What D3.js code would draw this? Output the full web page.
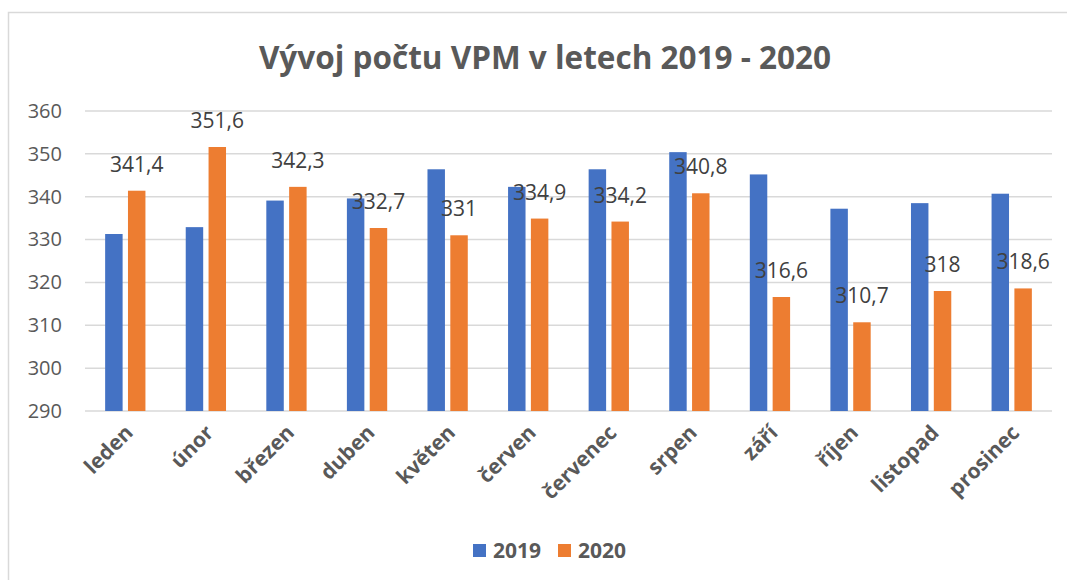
<!DOCTYPE html>
<html>
<head>
<meta charset="utf-8">
<script src="https://cdn.jsdelivr.net/npm/d3@7"></script>
<style>
  body { margin: 0; background: #fff; }
  svg { display: block; font-family: "Open Sans", sans-serif; }
</style>
</head>
<body>
<svg id="chart" width="1067" height="580"></svg>
<script>
const months = ['leden', 'únor', 'březen', 'duben', 'květen', 'červen',
  'červenec', 'srpen', 'září', 'říjen', 'listopad', 'prosinec']
const series = ['2019', '2020']
const values2019 = [331.3, 332.9, 339.1, 339.6, 346.4, 342.3, 346.4, 350.4, 345.2, 337.2, 338.5, 340.7]
const values2020 = [341.4, 351.6, 342.3, 332.7, 331, 334.9, 334.2, 340.8, 316.6, 310.7, 318, 318.6]
const yTicks = [290, 300, 310, 320, 330, 340, 350, 360]
const colors = ['#4472C4', '#ED7D31']
const title = 'Vývoj počtu VPM v letech 2019 - 2020'

const svg = d3.select('#chart')
const margin = {top: 111, right: 15, bottom: 169, left: 85}
const width = 1067
const height = 580

// chart frame (light border top + left, like the Excel export)
svg.append('path')
  .attr('d', `M8.5,${height} V12.5 H${width}`)
  .attr('fill', 'none')
  .attr('stroke', '#d9d9d9')
  .attr('stroke-width', 1.5)

const x = d3.scaleBand()
  .domain(months)
  .range([margin.left, width - margin.right])
  .paddingInner(0.5)
  .paddingOuter(0.25)
const xs = d3.scaleBand()
  .domain(series)
  .range([0, x.bandwidth()])
  .paddingInner(0.235)
const y = d3.scaleLinear()
  .domain([290, 360])
  .range([height - margin.bottom, margin.top])

const data = months.map((m, i) => ({month: m, values: [values2019[i], values2020[i]]}))

// gridlines
svg.append('g')
  .selectAll('line')
  .data(yTicks)
  .join('line')
  .attr('x1', margin.left)
  .attr('x2', width - margin.right)
  .attr('y1', d => y(d))
  .attr('y2', d => y(d))
  .attr('stroke', '#d9d9d9')
  .attr('stroke-width', 1.5)

// y axis labels
const yAxis = d3.axisLeft(y).tickValues(yTicks).tickSize(0).tickPadding(23)
svg.append('g')
  .attr('transform', `translate(${margin.left},0)`)
  .call(yAxis)
  .call(g => g.select('.domain').remove())
  .selectAll('text')
  .attr('fill', '#595959')
  .attr('font-size', 20)
  .attr('font-family', '"Open Sans", sans-serif')

// bars
const groups = svg.append('g')
  .selectAll('g')
  .data(data)
  .join('g')
  .attr('transform', d => `translate(${x(d.month)},0)`)

groups.selectAll('rect')
  .data(d => d.values.map((v, i) => ({key: series[i], v})))
  .join('rect')
  .attr('x', d => xs(d.key))
  .attr('width', xs.bandwidth())
  .attr('y', d => y(d.v))
  .attr('height', d => y(290) - y(d.v))
  .attr('fill', (d, i) => colors[i])

// data labels for 2020
groups.append('text')
  .attr('x', xs('2020') + xs.bandwidth() / 2)
  .attr('y', d => y(d.values[1]) - 19)
  .attr('text-anchor', 'middle')
  .attr('font-size', 21)
  .attr('fill', '#404040')
  .text(d => String(d.values[1]).replace('.', ','))

// x axis labels, rotated
svg.append('g')
  .selectAll('text')
  .data(months)
  .join('text')
  .attr('transform', d => `translate(${x(d) + x.bandwidth() / 2 + 9},${y(290) + 23}) rotate(-45)`)
  .attr('text-anchor', 'end')
  .attr('font-size', 21)
  .attr('font-weight', 700)
  .attr('fill', '#595959')
  .text(d => d)

// title
svg.append('text')
  .attr('x', 545)
  .attr('y', 69)
  .attr('text-anchor', 'middle')
  .attr('font-size', 31.5)
  .attr('font-weight', 700)
  .attr('fill', '#595959')
  .text(title)

// legend
const legend = svg.append('g')
  .selectAll('g')
  .data(series)
  .join('g')
  .attr('transform', (d, i) => `translate(${473 + i * 85},544)`)
legend.append('rect')
  .attr('width', 13)
  .attr('height', 13)
  .attr('fill', (d, i) => colors[i])
legend.append('text')
  .attr('x', 20)
  .attr('y', 14)
  .attr('font-size', 21)
  .attr('font-weight', 700)
  .attr('fill', '#595959')
  .text(d => d)
</script>
</body>
</html>
